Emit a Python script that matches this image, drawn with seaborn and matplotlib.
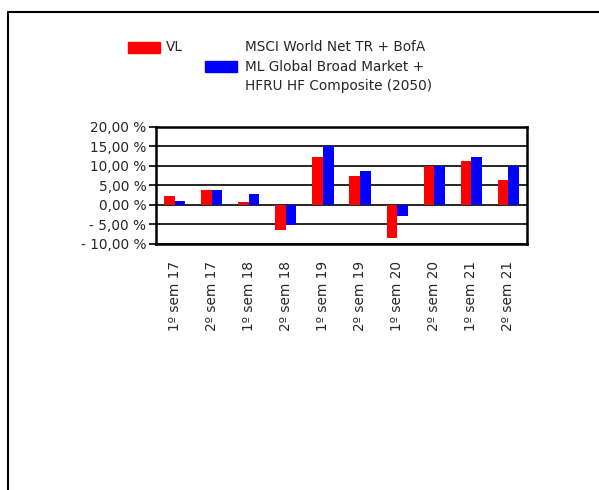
import pandas as pd
import seaborn as sns
import matplotlib.pyplot as plt
import matplotlib.patches as mpatches
from matplotlib.lines import Line2D
from matplotlib.ticker import FuncFormatter

periods = ['1º sem 17', '2º sem 17', '1º sem 18', '2º sem 18', '1º sem 19',
           '2º sem 19', '1º sem 20', '2º sem 20', '1º sem 21', '2º sem 21']
vl = [2.3, 3.7, 0.6, -6.6, 12.3, 7.4, -8.5, 9.9, 11.1, 6.4]
bench = [1.0, 3.7, 2.8, -5.3, 15.1, 8.7, -3.0, 9.9, 12.3, 9.9]
series_names = ['VL', 'Benchmark']
colors = ['#ff0000', '#0000ff']

df = pd.DataFrame({
    'period': periods * 2,
    'value': vl + bench,
    'series': [series_names[0]] * len(periods) + [series_names[1]] * len(periods),
})

sns.set_style('white')
plt.rcParams['font.family'] = ['DejaVu Sans']
FS = 9.8

fig = plt.figure(figsize=(5.99, 4.90), dpi=100)
ax = fig.add_axes([156 / 599, 1 - 243.5 / 490, 371 / 599, 117 / 490])

sns.barplot(data=df, x='period', y='value', hue='series', palette=colors,
            width=0.57, saturation=1, linewidth=0, legend=False, ax=ax, zorder=3)

ax.set_ylim(-10, 20)
ax.set_yticks([-10, -5, 0, 5, 10, 15, 20])


def pct(v, pos):
    s = f"{abs(v):.2f}".replace('.', ',') + ' %'
    return '- ' + s if v < 0 else s


ax.yaxis.set_major_formatter(FuncFormatter(pct))
ax.grid(axis='y', color='black', linewidth=1.2, zorder=0)
ax.set_axisbelow(True)
for sp in ax.spines.values():
    sp.set_visible(True)
    sp.set_color('black')
    sp.set_linewidth(1.8)

ax.tick_params(axis='y', left=True, length=5, width=1.2, pad=2, labelsize=FS, color='black')
ax.tick_params(axis='x', bottom=False, pad=9, labelsize=FS)
plt.setp(ax.get_xticklabels(), rotation=90)
ax.set_xlabel('')
ax.set_ylabel('')

# legend, drawn in figure pixels
def px(x, y):
    return x / 599, 1 - y / 490

fig.patches.append(mpatches.Rectangle(px(128, 53), 32 / 599, 11 / 490, color=colors[0],
                                      transform=fig.transFigure, figure=fig))
fig.text(*px(166, 47), 'VL', fontsize=FS, va='center')
fig.patches.append(mpatches.Rectangle(px(205, 72), 32 / 599, 11 / 490, color=colors[1],
                                      transform=fig.transFigure, figure=fig))
fig.text(*px(245, 47), 'MSCI World Net TR + BofA', fontsize=FS, va='center')
fig.text(*px(245, 67), 'ML Global Broad Market +', fontsize=FS, va='center')
fig.text(*px(245, 86), 'HFRU HF Composite (2050)', fontsize=FS, va='center')

# outer frame (left and top only)
fig.add_artist(Line2D([8 / 599, 8 / 599], [0, 1 - 12 / 490], color='black', linewidth=1.5,
                      transform=fig.transFigure))
fig.add_artist(Line2D([8 / 599, 1], [1 - 12 / 490, 1 - 12 / 490], color='black', linewidth=1.5,
                      transform=fig.transFigure))

fig.savefig('out.png', dpi=100)
